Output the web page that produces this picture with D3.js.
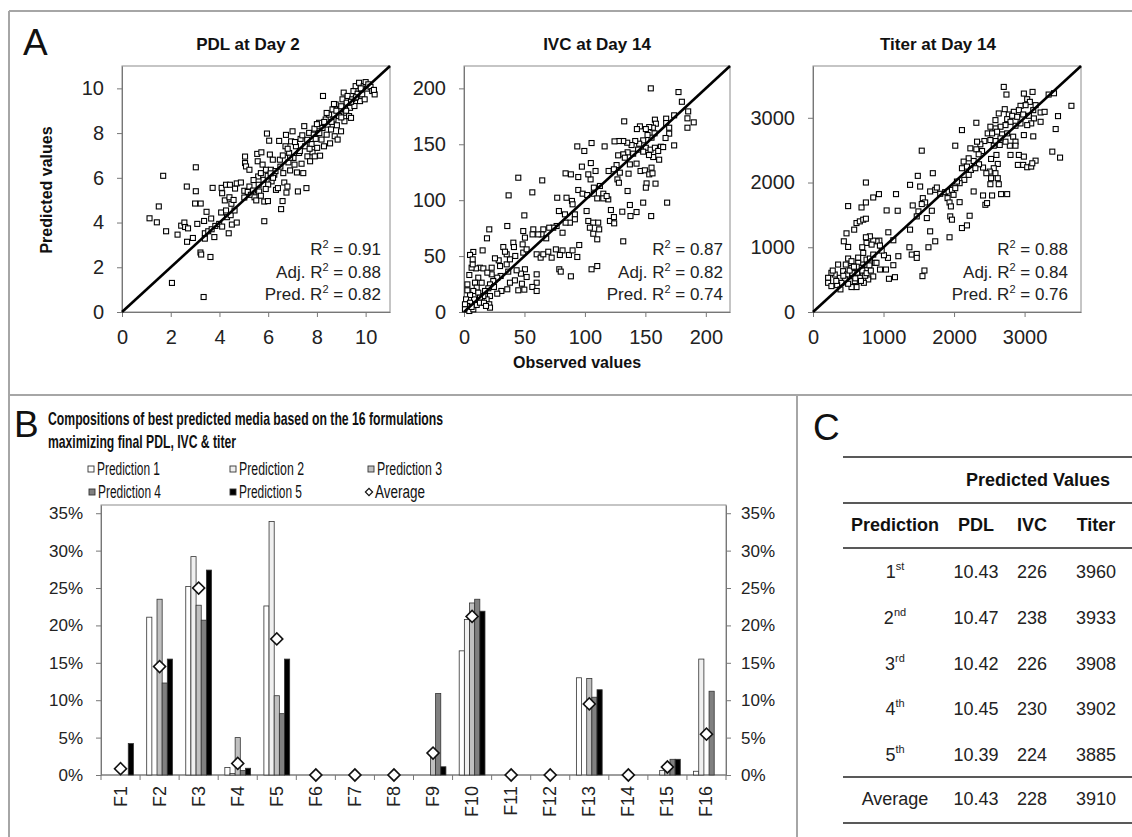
<!DOCTYPE html>
<html><head><meta charset="utf-8">
<script src="https://cdn.jsdelivr.net/npm/d3@7"></script>
<style>
body{margin:0;background:#fff}
svg{display:block;font-family:"Liberation Sans",Arial,Helvetica,sans-serif}
</style>
</head><body>
<svg id="c" width="1132" height="837"></svg>
<script>
// ---------------- DATA ----------------
// Panel A: [observed, predicted]
const pdlPoints = [[1.13,4.19],[1.43,4.01],[1.51,4.72],[1.69,6.09],[1.81,3.61],[2.05,1.30],[2.28,3.46],[2.43,3.86],[2.56,4.00],[2.66,5.61],[2.59,3.80],[2.71,3.74],[2.67,3.14],[2.91,3.31],[3.03,6.47],[3.03,5.40],[3.0,4.85],[3.23,4.85],[3.09,3.94],[3.22,2.66],[3.25,2.57],[3.35,0.67],[3.40,3.52],[3.40,3.28],[3.37,4.07],[3.47,4.48],[3.54,3.61],[3.63,2.46],[3.72,5.55],[3.66,4.18],[3.68,3.70],[3.79,3.35],[3.83,3.85],[3.99,3.94],[4.07,4.45],[4.09,5.55],[4.11,5.31],[4.11,3.82],[4.27,5.69],[4.22,4.99],[4.27,4.54],[4.31,4.24],[4.38,3.52],[4.43,5.69],[4.41,5.13],[4.49,4.84],[4.46,4.33],[4.51,3.91],[4.58,5.01],[4.64,5.52],[4.62,4.54],[4.71,4.00],[4.71,5.75],[4.88,5.79],[5.05,6.95],[5.05,6.66],[5.09,6.51],[5.02,5.42],[5.02,5.12],[5.16,5.37],[5.23,6.36],[5.23,5.61],[5.29,5.24],[5.38,5.43],[5.44,5.13],[5.51,4.99],[5.55,7.07],[5.57,6.74],[5.59,6.06],[5.61,5.69],[5.63,5.39],[5.72,7.14],[5.77,6.59],[5.70,6.21],[5.81,5.91],[5.84,4.06],[5.84,4.94],[5.95,7.98],[5.99,4.96],[5.91,6.36],[5.98,6.09],[6.04,7.66],[6.07,7.04],[6.11,6.36],[6.14,5.84],[6.19,6.81],[6.25,6.14],[6.32,5.46],[6.40,5.54],[6.45,7.65],[6.48,6.81],[6.53,4.60],[6.59,4.96],[6.62,6.21],[6.66,5.79],[6.71,7.41],[6.73,7.92],[6.75,5.34],[6.79,5.61],[6.83,6.69],[6.86,7.11],[6.90,6.33],[6.94,7.63],[7.00,8.08],[7.04,6.89],[7.08,6.59],[7.14,7.41],[7.18,6.24],[7.22,5.39],[7.27,7.11],[7.33,7.74],[7.37,6.63],[7.44,6.21],[7.48,8.31],[7.52,7.41],[7.57,5.54],[7.61,6.96],[7.68,8.01],[7.72,6.74],[7.78,7.51],[7.82,7.14],[7.87,7.93],[7.91,6.96],[7.95,7.74],[8.01,7.34],[8.05,8.08],[8.09,8.46],[8.13,6.99],[8.19,7.71],[8.23,8.23],[8.25,9.66],[8.29,7.41],[8.36,8.61],[8.40,7.93],[8.44,8.38],[8.50,8.83],[8.54,7.54],[8.58,8.16],[8.64,9.06],[8.68,8.61],[8.73,7.86],[8.77,9.28],[8.82,8.35],[8.85,7.71],[8.91,8.76],[8.95,9.06],[8.99,8.08],[9.05,9.51],[9.10,9.81],[9.13,8.53],[9.18,8.91],[9.22,9.36],[9.26,9.66],[9.32,8.76],[9.36,9.13],[9.40,8.68],[9.45,9.51],[9.50,9.88],[9.54,9.21],[9.59,10.1],[9.63,9.58],[9.67,9.76],[9.73,10.25],[9.77,9.43],[9.81,9.96],[9.86,9.73],[9.92,10.1],[9.96,9.51],[10.0,10.28],[10.05,9.99],[10.11,10.18],[10.2,10.07],[10.27,9.88],[10.37,9.73],[10.34,9.93],[6.2,6.0],[6.3,6.3],[6.0,5.7],[5.9,5.5],[6.5,6.5],[6.6,7.0],[7.1,7.6],[7.3,7.2],[7.6,7.7],[7.9,8.2],[8.1,8.0],[8.3,8.5],[8.6,8.5],[8.8,9.0],[9.0,9.2],[9.2,9.0],[9.4,9.4],[9.6,9.6],[9.8,10.0],[8.4,8.9],[8.7,9.3],[9.0,8.7],[7.4,7.9],[6.9,6.9],[5.4,5.9],[5.7,5.2],[6.1,6.2],[6.8,7.3],[7.7,7.3],[8.0,8.4]];

const ivcPoints = [[154.5,200],[177.4,196.7],[180.2,188],[185.4,179.4],[184.8,173.2],[190,169.6],[184.8,164.8],[173.8,175.9],[167.2,172.9],[167.2,169],[169.7,164.8],[169.7,159.5],[166.7,155.6],[173.8,149],[162.8,147.8],[157.9,172],[158.7,168.4],[156.2,164.8],[153.2,165.4],[150.4,163.6],[145.5,166],[143,163.6],[132.5,170.5],[157.6,159.8],[155.1,155.9],[151.8,158.3],[148.2,153.5],[144.9,150.5],[141.6,152.9],[138.6,149.3],[135,151.4],[131.7,152.9],[128.1,152.9],[124.5,152.6],[116.3,148.1],[105.5,151.1],[99.5,144],[93.7,148.1],[150.4,146.9],[154.3,145.2],[157.9,146.9],[160.6,144],[164.7,147.5],[161.4,136.2],[156.5,138.6],[153,140.4],[148.2,143.4],[144,145.2],[139.9,141.6],[135.3,142.8],[131.7,141],[127.5,140.1],[142.7,132.7],[137.2,132],[133,138],[126.2,131.4],[124,127.6],[119.6,126.1],[146,126.1],[149.6,126.7],[155.1,129.1],[153.2,123.1],[155.9,124],[158.4,114.8],[151,115],[150.4,111.2],[136.1,123.7],[128.9,124.6],[126.9,118.6],[128.1,115.6],[135.3,108.2],[148.2,97.8],[168,97.8],[154.8,85.8],[142.7,89.4],[137.2,95.7],[137.7,85.8],[130.9,89.7],[121.5,91.2],[120.7,81.4],[124.2,79.3],[131.7,63.2],[124,84.9],[119.3,100.7],[115.2,105.8],[112.4,112.7],[107.4,111.2],[104.7,118.6],[108.8,126.1],[104.9,133.2],[102.8,123.1],[97.5,130],[94.5,120.7],[88.4,123.1],[84,124],[94.5,109.1],[98.1,105.8],[101.9,104.6],[107.4,105.8],[110.2,101.6],[115.2,101.6],[118,103.7],[89.3,99.3],[77.1,102.2],[84.8,102.2],[89.8,96.3],[91.7,87.3],[101.4,90.3],[102.8,81.4],[106.9,79.9],[104.1,75.4],[111,79.9],[111.8,73.9],[110.2,65],[106.9,70],[91.7,82.9],[87.6,79.9],[84,79.9],[83.5,87.3],[78.5,90.3],[81.5,70.9],[76.6,76.9],[73.8,75.4],[70.5,75.4],[65.6,73.9],[64.2,69.4],[68,65.9],[61.4,69.4],[57.3,73.9],[56.7,69.4],[50.4,66.5],[49,72.4],[49.9,86.4],[56.5,107],[64.7,117.7],[44.9,120.1],[36.9,104.3],[35.8,76.9],[20.9,73.9],[19,65.9],[15.4,55.1],[7.7,53.7],[5,51],[32.5,58.1],[40.8,62],[41.3,58.1],[48.5,60.5],[49,53.1],[42.4,50.1],[51.8,56],[60.1,51.6],[63.4,48.6],[65.6,51.6],[69.7,53.9],[72.5,48.6],[76,56],[81.5,55.1],[79.3,51],[86.8,51],[89.8,55.1],[93.7,49.2],[95.3,59.9],[78.8,38.2],[80,36.1],[88.4,31.9],[105.5,38.2],[110.2,41.1],[60.1,33.7],[60.1,26.2],[56.5,22.4],[60.1,18.8],[50.4,38.2],[51.8,31.3],[47.1,34.3],[43.5,37.3],[47.9,25.3],[49.9,20],[44.9,19.4],[42.1,28.3],[38,26.2],[36.6,36.1],[35.8,20.3],[30.9,18.8],[29.8,41.1],[28.7,46.2],[25.6,48],[30.3,32.2],[27.5,30.7],[24.2,27.7],[22.9,33.7],[21.5,24.7],[20.1,21.2],[24.8,22.4],[27.5,16.4],[21.5,14.3],[18.7,11.3],[20.9,6.9],[21.5,3.9],[17.4,18.8],[16,14.3],[14.6,26.2],[13.2,39.6],[9.9,39],[6.3,39.6],[4.4,33.1],[7.2,42.6],[11.8,30.7],[9.1,26.2],[10.5,21.8],[7.7,18.8],[11.8,17.3],[13.2,12.8],[8.3,11.3],[5,15.2],[2.8,19.4],[2.8,24.7],[1.7,11.3],[5,8.3],[2.8,5.4],[0.8,6.9],[0.8,2.4],[4.4,0.9],[7.7,2.4],[10.5,6.3],[13.2,8.3],[16.5,8.3],[18.2,5.4],[6.3,4.5],[7.2,47.1],[16,39],[19.3,35.2],[22.9,39.6],[35.3,42.6],[38,47.1],[35.3,51.6],[33.9,53.9]];

const titerPoints = [[2705,3477],[2743,3359],[2990,3374],[3113,3400],[3037,3287],[3341,3359],[3417,3379],[3664,3185],[3474,3026],[3441,2826],[3227,3082],[3284,3092],[3227,2938],[3156,3195],[3075,3246],[3014,3195],[2942,3185],[2919,3118],[2847,3092],[2776,3051],[2719,3133],[2634,3067],[2587,2964],[2753,2979],[2824,3031],[2895,3015],[2980,3051],[3061,3031],[3123,3118],[3132,2990],[3094,2913],[3037,2887],[2942,2913],[2871,2877],[2800,2938],[2729,2887],[2658,2862],[2587,2836],[2515,2862],[2477,2759],[2539,2759],[2610,2785],[2681,2744],[2753,2759],[2838,2708],[2871,2631],[2791,2569],[2729,2631],[2658,2682],[2587,2641],[2515,2656],[2430,2641],[2373,2590],[2326,2631],[2563,2569],[2648,2580],[2871,2569],[2990,2733],[3123,2713],[2919,2426],[2990,2400],[2905,2272],[2980,2272],[3037,2236],[3094,2246],[3156,2338],[3109,2297],[3393,2477],[3503,2385],[2800,2426],[2601,2426],[2525,2364],[2620,2287],[2563,2221],[2506,2169],[2587,2144],[2458,2144],[2525,2067],[2620,2067],[2634,1974],[2515,1974],[2411,2231],[2354,2282],[2278,2333],[2207,2374],[2136,2323],[2183,2246],[2240,2195],[2302,2221],[2112,2221],[2231,2528],[2316,2513],[2397,2487],[2349,2436],[2207,2118],[2145,2041],[2079,1990],[2041,2015],[2017,2569],[2112,2810],[2316,2923],[1542,2492],[1699,2144],[1486,2103],[1376,1964],[1519,1938],[1661,1862],[1733,1887],[1756,1923],[1804,1826],[1874,1851],[1922,1862],[1970,1887],[2017,1913],[1993,1810],[1908,1759],[1936,1692],[1955,1631],[2079,1697],[1557,1759],[1590,1692],[1542,1667],[1414,1646],[1495,1554],[1614,1451],[1471,1477],[1685,1564],[2278,1862],[2411,1800],[2539,1800],[2667,1821],[2753,1821],[2444,1656],[2468,1682],[2221,1487],[2112,1297],[2183,1338],[1946,1477],[1970,1426],[1936,1154],[1661,1246],[1733,1092],[1637,1000],[1376,1272],[1367,1000],[1400,887],[1471,897],[1471,836],[1580,641],[1552,554],[1068,1231],[1139,1108],[1210,862],[1139,723],[1162,538],[1077,513],[1035,656],[950,656],[1063,836],[1006,877],[974,949],[941,1103],[902,1092],[854,1103],[807,1169],[750,1154],[759,1067],[831,1041],[949,1026],[698,1000],[712,913],[759,810],[807,826],[854,887],[878,759],[854,549],[759,651],[698,733],[641,759],[664,682],[626,605],[712,579],[783,503],[721,451],[664,528],[617,385],[593,477],[570,554],[546,682],[498,826],[546,785],[465,733],[427,631],[484,579],[451,503],[403,451],[380,528],[356,733],[308,579],[261,605],[214,528],[214,451],[261,400],[342,415],[389,349],[546,385],[498,436],[437,1092],[498,1005],[475,1215],[584,1272],[617,1374],[664,1400],[712,1426],[750,1441],[498,1636],[688,1615],[750,1692],[854,1769],[935,1821],[1177,1821],[1044,1569],[1201,1564],[750,2000],[560,600],[620,700],[700,640],[740,560],[800,720],[520,640],[430,560],[330,480],[280,640],[600,520],[680,480],[760,600],[820,640],[900,760],[640,840],[580,700]];

const aTickPDL = [0,2,4,6,8,10];
const aTickIVC = [0,50,100,150,200];
const aTickTiter = [0,1000,2000,3000];
const r2PDL = ["0.91","0.88","0.82"];
const r2IVC = ["0.87","0.82","0.74"];
const r2Titer = ["0.88","0.84","0.76"];

// Panel B
const formulations = ["F1","F2","F3","F4","F5","F6","F7","F8","F9","F10","F11","F12","F13","F14","F15","F16"];
const seriesNames = ["Prediction 1","Prediction 2","Prediction 3","Prediction 4","Prediction 5"];
const pred1 = [0,21.1,25.2,1.0,22.6,0,0,0,0,16.6,0,0,13.0,0,0,0.5];
const pred2 = [0,0,29.2,0.2,33.9,0,0,0,0,20.8,0,0,0,0,0.6,15.5];
const pred3 = [0,23.5,22.7,5.0,10.6,0,0,0,2.6,23.0,0,0,12.9,0,0.5,0];
const pred4 = [0,12.3,20.7,0.6,8.2,0,0,0,10.9,23.5,0,0,10.4,0,2.1,11.2];
const pred5 = [4.2,15.5,27.4,0.9,15.5,0,0,0,1.1,21.9,0,0,11.4,0,2.1,0];
const averageVals = [0.84,14.5,25.0,1.55,18.2,0,0,0,2.93,21.2,0,0,9.5,0,1.07,5.46];
const pctTicks = [0,5,10,15,20,25,30,35];

// Panel C
const ordNums = ["1","2","3","4","5"];
const ordSups = ["st","nd","rd","th","th"];
const tPDL = ["10.43","10.47","10.42","10.45","10.39"];
const tIVC = ["226","238","226","230","224"];
const tTiter = ["3960","3933","3908","3902","3885"];
const tAverage = ["10.43","228","3910"];

// ---------------- DRAW ----------------
const svg = d3.select("#c");
svg.append("rect").attr("width",1132).attr("height",837).attr("fill","#fff");

// panel borders
const border = "#a6a6a6";
[[9,11,1132,11],[9,11,9,837],[9,395,1132,395],[797,395,797,837]].forEach(l=>{
  svg.append("line").attr("x1",l[0]).attr("y1",l[1]).attr("x2",l[2]).attr("y2",l[3])
    .attr("stroke",border).attr("stroke-width",2);
});

// panel letters
[["A",23,55],["B",14,437],["C",813,440]].forEach(d=>{
  svg.append("text").attr("x",d[1]).attr("y",d[2]).attr("font-size",37).attr("fill","#111").text(d[0]);
});

function scatter(cfg){
  const g = svg.append("g");
  const x = d3.scaleLinear().domain([0,cfg.max]).range([cfg.x0,cfg.x1]);
  const y = d3.scaleLinear().domain([0,cfg.max]).range([312,66]);
  g.append("rect").attr("x",cfg.x0).attr("y",66).attr("width",cfg.x1-cfg.x0).attr("height",312-66)
    .attr("fill","none").attr("stroke","#8c8c8c").attr("stroke-width",1);
  const fmt = d3.format("d");
  const ax = g.append("g").attr("transform","translate(0,312)")
    .call(d3.axisBottom(x).tickValues(cfg.ticks).tickFormat(fmt).tickSize(5).tickSizeOuter(0).tickPadding(13));
  const ay = g.append("g").attr("transform",`translate(${cfg.x0},0)`)
    .call(d3.axisLeft(y).tickValues(cfg.ticks).tickFormat(fmt).tickSize(5).tickSizeOuter(0).tickPadding(13));
  [ax,ay].forEach(a=>{
    a.select(".domain").attr("stroke","#777");
    a.selectAll(".tick line").attr("stroke","#777");
    a.selectAll("text").attr("font-size",20).attr("fill","#222").attr("font-family","'Liberation Sans',Arial,sans-serif");
  });
  // points
  g.append("g").selectAll("rect").data(cfg.points).join("rect")
    .attr("x",d=>x(d[0])-2.5).attr("y",d=>y(d[1])-2.5).attr("width",5).attr("height",5)
    .attr("fill","#fff").attr("stroke","#000").attr("stroke-width",1.1);
  // identity line
  g.append("line").attr("x1",x(0)).attr("y1",y(0)).attr("x2",x(cfg.max)).attr("y2",y(cfg.max))
    .attr("stroke","#000").attr("stroke-width",2.6);
  // title
  g.append("text").attr("x",cfg.titleX).attr("y",50).attr("text-anchor","middle")
    .attr("font-size",17).attr("font-weight","bold").attr("fill","#111").text(cfg.title);
  // R2 text
  const labels = ["","Adj. ","Pred. "];
  cfg.r2.forEach((v,i)=>{
    const t = g.append("text").attr("x",cfg.r2X).attr("y",255+i*22.5).attr("text-anchor","end")
      .attr("font-size",17).attr("fill","#222");
    t.append("tspan").text(labels[i]+"R");
    t.append("tspan").attr("font-size",11).attr("dy",-7).text("2");
    t.append("tspan").attr("dy",7).text(" = "+v);
  });
}

scatter({points:pdlPoints,max:11,ticks:aTickPDL,x0:122,x1:390,title:"PDL at Day 2",titleX:248,r2:r2PDL,r2X:381});
scatter({points:ivcPoints,max:220,ticks:aTickIVC,x0:464,x1:730,title:"IVC at Day 14",titleX:597,r2:r2IVC,r2X:723});
scatter({points:titerPoints,max:3800,ticks:aTickTiter,x0:813,x1:1081,title:"Titer at Day 14",titleX:938,r2:r2Titer,r2X:1068});

svg.append("text").attr("transform","translate(52,190) rotate(-90)").attr("text-anchor","middle")
  .attr("font-size",16).attr("font-weight","bold").attr("fill","#111").text("Predicted values");
svg.append("text").attr("x",577).attr("y",368).attr("text-anchor","middle")
  .attr("font-size",16).attr("font-weight","bold").attr("fill","#111").text("Observed values");

// ---------------- Panel B ----------------
const narrow = "'Liberation Sans Narrow','Arial Narrow','Liberation Sans',sans-serif";
svg.append("text").attr("x",48).attr("y",425).attr("font-family",narrow).attr("font-weight","bold")
  .attr("font-size",19).attr("fill","#111").attr("textLength",395).attr("lengthAdjust","spacingAndGlyphs")
  .text("Compositions of best predicted media based on the 16 formulations");
svg.append("text").attr("x",48).attr("y",448).attr("font-family",narrow).attr("font-weight","bold")
  .attr("font-size",19).attr("fill","#111").attr("textLength",188).attr("lengthAdjust","spacingAndGlyphs")
  .text("maximizing final PDL, IVC & titer");

const seriesData = [pred1,pred2,pred3,pred4,pred5];
const fills = ["#ffffff","#f0f0f0","#c0c0c0","#808080","#000000"];

const xB = d3.scaleBand().domain(formulations).range([101,726]);
const x1 = d3.scaleBand().domain(seriesNames).range([xB.bandwidth()*0.17, xB.bandwidth()*0.83]);
const yB = d3.scaleLinear().domain([0,36.1]).range([775,505]);
const gB = svg.append("g");

gB.append("rect").attr("x",101).attr("y",505).attr("width",625).attr("height",270)
  .attr("fill","none").attr("stroke","#8c8c8c");
const fmtPct = d=>d+"%";
const ayL = gB.append("g").attr("transform","translate(101,0)")
  .call(d3.axisLeft(yB).tickValues(pctTicks).tickFormat(fmtPct).tickSize(5).tickSizeOuter(0).tickPadding(13));
const ayR = gB.append("g").attr("transform","translate(726,0)")
  .call(d3.axisRight(yB).tickValues(pctTicks).tickFormat(fmtPct).tickSize(5).tickSizeOuter(0).tickPadding(10));
[ayL,ayR].forEach(a=>{
  a.select(".domain").attr("stroke","#777");
  a.selectAll(".tick line").attr("stroke","#777");
  a.selectAll("text").attr("font-size",17).attr("fill","#222").attr("font-family","'Liberation Sans',Arial,sans-serif");
});
// bottom axis line + category boundary ticks
gB.append("line").attr("x1",101).attr("x2",726).attr("y1",775).attr("y2",775).attr("stroke","#777");
gB.append("g").selectAll("line").data(formulations.concat(["end"])).join("line")
  .attr("x1",d=>d==="end"?726:xB(d)).attr("x2",d=>d==="end"?726:xB(d))
  .attr("y1",775).attr("y2",780).attr("stroke","#777");
// category labels
gB.append("g").selectAll("text").data(formulations).join("text")
  .attr("transform",d=>`translate(${xB(d)+xB.bandwidth()/2+6},786) rotate(-90)`)
  .attr("text-anchor","end").attr("font-size",18).attr("fill","#222").text(d=>d);

// bars
seriesNames.forEach((s,si)=>{
  gB.append("g").selectAll("rect").data(seriesData[si]).join("rect")
    .attr("x",(d,i)=>xB(formulations[i])+x1(s))
    .attr("width",x1.bandwidth())
    .attr("y",d=>yB(d))
    .attr("height",d=>yB(0)-yB(d))
    .attr("fill",fills[si]).attr("stroke",d=>d>0?"#333":"none").attr("stroke-width",0.8);
});
// average diamonds
const diamond = d3.symbol().type(d3.symbolSquare).size(72);
gB.append("g").selectAll("path").data(averageVals).join("path")
  .attr("d",diamond)
  .attr("transform",(d,i)=>`translate(${xB(formulations[i])+xB.bandwidth()/2},${yB(d)}) rotate(45)`)
  .attr("fill","#fff").attr("stroke","#111").attr("stroke-width",1.6);

// legend
const legendItems = [
  {name:"Prediction 1",fill:fills[0],x:88,y:469,tw:63},
  {name:"Prediction 2",fill:fills[1],x:230,y:469,tw:65},
  {name:"Prediction 3",fill:fills[2],x:368,y:469,tw:65},
  {name:"Prediction 4",fill:fills[3],x:89,y:492,tw:63},
  {name:"Prediction 5",fill:fills[4],x:230,y:492,tw:63},
  {name:"Average",fill:null,x:366,y:492,tw:50}
];
legendItems.forEach(it=>{
  if(it.fill){
    svg.append("rect").attr("x",it.x).attr("y",it.y-3).attr("width",6).attr("height",6)
      .attr("fill",it.fill).attr("stroke","#333").attr("stroke-width",0.9);
  } else {
    svg.append("path").attr("d",d3.symbol().type(d3.symbolSquare).size(26)())
      .attr("transform",`translate(${it.x+3},${it.y}) rotate(45)`)
      .attr("fill","#fff").attr("stroke","#111").attr("stroke-width",1.2);
  }
  svg.append("text").attr("x",it.x+9).attr("y",it.y+6).attr("font-family",narrow)
    .attr("font-size",18).attr("fill","#111").attr("textLength",it.tw).attr("lengthAdjust","spacingAndGlyphs")
    .text(it.name);
});

// ---------------- Panel C ----------------
const gC = svg.append("g").attr("fill","#111");
[457,503,548,777,823].forEach(yy=>{
  gC.append("line").attr("x1",843).attr("x2",1132).attr("y1",yy).attr("y2",yy)
    .attr("stroke","#222").attr("stroke-width",1.6);
});
const colX = [895,976,1032,1096];
gC.append("text").attr("x",1038).attr("y",486).attr("text-anchor","middle").attr("font-size",18)
  .attr("font-weight","bold").text("Predicted Values");
["Prediction","PDL","IVC","Titer"].forEach((h,i)=>{
  gC.append("text").attr("x",colX[i]).attr("y",531).attr("text-anchor","middle").attr("font-size",18)
    .attr("font-weight","bold").text(h);
});
const rowY = d3.scalePoint().domain(ordNums).range([578,761]);
ordNums.forEach((n,i)=>{
  const yy = rowY(n);
  const t = gC.append("text").attr("x",colX[0]).attr("y",yy).attr("text-anchor","middle").attr("font-size",18).attr("fill","#222");
  t.append("tspan").text(n);
  t.append("tspan").attr("font-size",11).attr("dy",-8).text(ordSups[i]);
  [tPDL[i],tIVC[i],tTiter[i]].forEach((v,j)=>{
    gC.append("text").attr("x",colX[j+1]).attr("y",yy).attr("text-anchor","middle").attr("font-size",18).attr("fill","#222").text(v);
  });
});
gC.append("text").attr("x",colX[0]).attr("y",805).attr("text-anchor","middle").attr("font-size",18).attr("fill","#222").text("Average");
tAverage.forEach((v,j)=>{
  gC.append("text").attr("x",colX[j+1]).attr("y",805).attr("text-anchor","middle").attr("font-size",18).attr("fill","#222").text(v);
});
</script>
</body></html>
